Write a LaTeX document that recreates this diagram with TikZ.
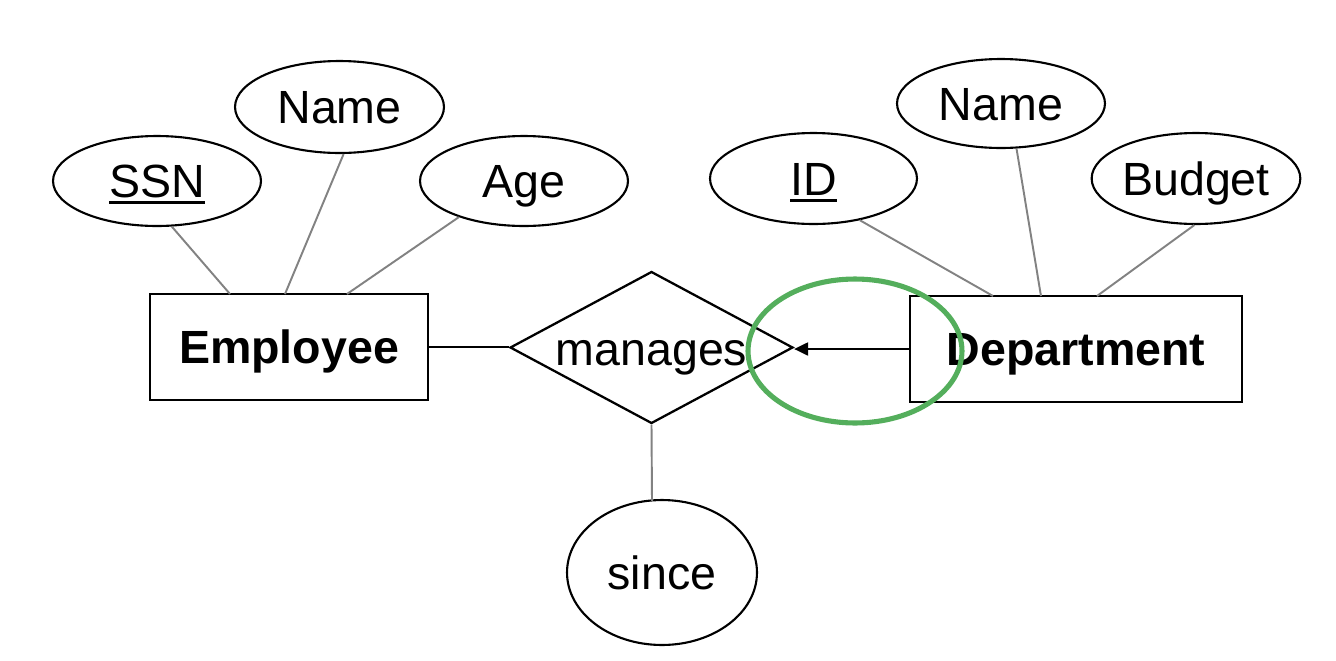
\documentclass[tikz,border=0pt]{standalone}
\usepackage{fontspec}
\setmainfont{Liberation Sans}
\usetikzlibrary{shapes.geometric,arrows.meta}
\definecolor{hlgreen}{RGB}{84,174,92}
\definecolor{linkgray}{RGB}{130,130,130}
\newcommand{\keyline}[1]{\setbox0=\hbox{#1}\rlap{\rule[-3.7pt]{\wd0}{1.8pt}}\box0}
\begin{document}
\begin{tikzpicture}[x=0.02cm,y=-0.02cm,
  attr/.style={ellipse,draw,line width=1.2pt,inner sep=0pt,
    font=\fontsize{26.5}{30}\selectfont,text height=19pt,text depth=0pt},
  entity/.style={rectangle,draw,line width=1.3pt,inner sep=0pt,
    font=\fontsize{26.5}{30}\selectfont\bfseries,text height=19pt,text depth=0pt},
  relship/.style={diamond,draw,line width=1.3pt,inner sep=0pt,
    minimum width=5.66cm,minimum height=3.04cm},
  lbl/.style={inner sep=0pt,font=\fontsize{26.5}{30}\selectfont,
    text height=19pt,text depth=0pt},
  attrline/.style={draw=linkgray,line width=1.1pt},
  conn/.style={draw=black,line width=1.2pt},
  highlight/.style={ellipse,draw=hlgreen,line width=2.9pt,inner sep=0pt,
    minimum width=4.28cm,minimum height=2.88cm}
]
\useasboundingbox (0,0) rectangle (1336,660);

% entities
\node[entity,minimum width=5.56cm,minimum height=2.12cm] (emp) at (289,347) {Employee};
\node[entity,minimum width=6.64cm,minimum height=2.12cm] (dept) at (1076,349) {Department};

% relationship
\node[relship] (rel) at (651.5,347.5) {};
\node[lbl] (reltext) at (651.5,349) {manages};

% attributes
\node[attr,minimum width=4.16cm,minimum height=1.80cm] (ssn) at (157,181) {\keyline{SSN}};
\node[attr,minimum width=4.18cm,minimum height=1.84cm] (ename) at (339.5,107) {Name};
\node[attr,minimum width=4.16cm,minimum height=1.80cm] (age) at (524,181) {Age};
\node[attr,minimum width=4.14cm,minimum height=1.82cm] (id) at (813.5,178.5) {\keyline{ID}};
\node[attr,minimum width=4.16cm,minimum height=1.78cm] (dname) at (1001,103.5) {Name};
\node[attr,minimum width=4.16cm,minimum height=1.82cm] (budget) at (1196,178.5) {Budget};
\node[attr,minimum width=3.80cm,minimum height=2.90cm] (since) at (662,572.5) {since};

% attachment points on entity tops
\coordinate (e1) at (230,294);
\coordinate (e2) at (285,294);
\coordinate (e3) at (347,294);
\coordinate (d1) at (993,296);
\coordinate (d2) at (1041,296);
\coordinate (d3) at (1097,296);
\coordinate (s1) at (652,501);

% attribute links
\draw[attrline] (ssn.-72) -- (e1);
\draw[attrline] (ename.-85) -- (e2);
\draw[attrline] (age.-151) -- (e3);
\draw[attrline] (id.-42) -- (d1);
\draw[attrline] (dname.-71) -- (d2);
\draw[attrline] (budget.-92) -- (d3);
\draw[attrline] (rel.south) -- (s1);

% relationship links
\draw[conn] (emp.east) -- (emp.east -| rel.west);
\draw[conn,-{Triangle[length=0.28cm,width=0.26cm]}] (dept.west) -- (dept.west -| rel.east);

% highlight
\node[highlight] (hl) at (855,351) {};
\end{tikzpicture}
\end{document}
